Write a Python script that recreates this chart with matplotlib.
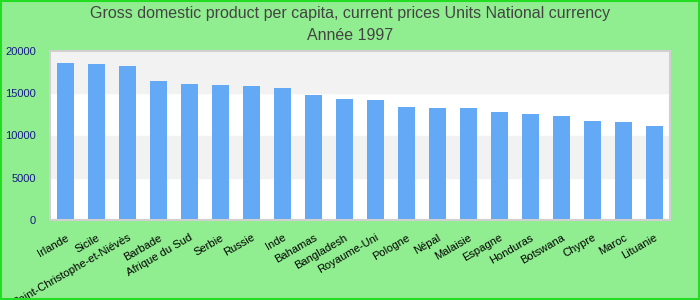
import matplotlib.pyplot as plt
import numpy as np

plt.rcParams["font.family"] = ['Liberation Sans', 'DejaVu Sans']

# données
pays = ['Irlande', 'Sicile', 'Saint-Christophe-et-Niévès', 'Barbade', 'Afrique du Sud',
        'Serbie', 'Russie', 'Inde', 'Bahamas', 'Bangladesh', 'Royaume-Uni', 'Pologne',
        'Népal', 'Malaisie', 'Espagne', 'Honduras', 'Botswana', 'Chypre', 'Maroc', 'Lituanie']
pib = [18580, 18460, 18220, 16450, 16090, 15980, 15860, 15620, 14790, 14320,
       14200, 13370, 13250, 13250, 12780, 12540, 12310, 11720, 11600, 11120]
yticks = [0, 5000, 10000, 15000, 20000]

fig = plt.figure(figsize=(7, 3), dpi=100, facecolor='#90ee90')
ax = fig.add_axes([50 / 700, 80 / 300, 620 / 700, 169 / 300])
ax.set_facecolor('white')

# bandes alternées
for i in range(len(yticks) - 1):
    if i % 2 == 1:
        ax.axhspan(yticks[i], yticks[i + 1], color='#f2f2f2', zorder=0)

x = np.arange(len(pays))
ax.bar(x, pib, width=0.55, color='#63a9f5', zorder=2)

ax.set_xlim(-0.5, len(pays) - 0.5)
ax.set_ylim(0, 20000)
ax.set_yticks(yticks)
ax.set_yticklabels([str(v) for v in yticks], color='#1a1a8c', fontsize=8)
ax.tick_params(axis='y', length=0, pad=10)
ax.set_xticks(x)
ax.set_xticklabels(pays, rotation=30, ha='right', rotation_mode='anchor', fontsize=8)
ax.tick_params(axis='x', length=0, pad=9)

for s in ax.spines.values():
    s.set_color('#d0d0d0')
    s.set_linewidth(1.5)

fig.text(0.5, 0.955, 'Gross domestic product per capita, current prices Units National currency',
         ha='center', va='center', fontsize=11.5, color='#444444')
fig.text(0.5, 0.88, 'Année 1997', ha='center', va='center', fontsize=11.5, color='#444444')

# cadre vert
fig.patches.append(plt.Rectangle((0.001, 0.002), 0.997, 0.995, transform=fig.transFigure,
                                 fill=False, edgecolor='#22dd22', linewidth=1.5))

fig.savefig('out.png', dpi=100, facecolor=fig.get_facecolor())
